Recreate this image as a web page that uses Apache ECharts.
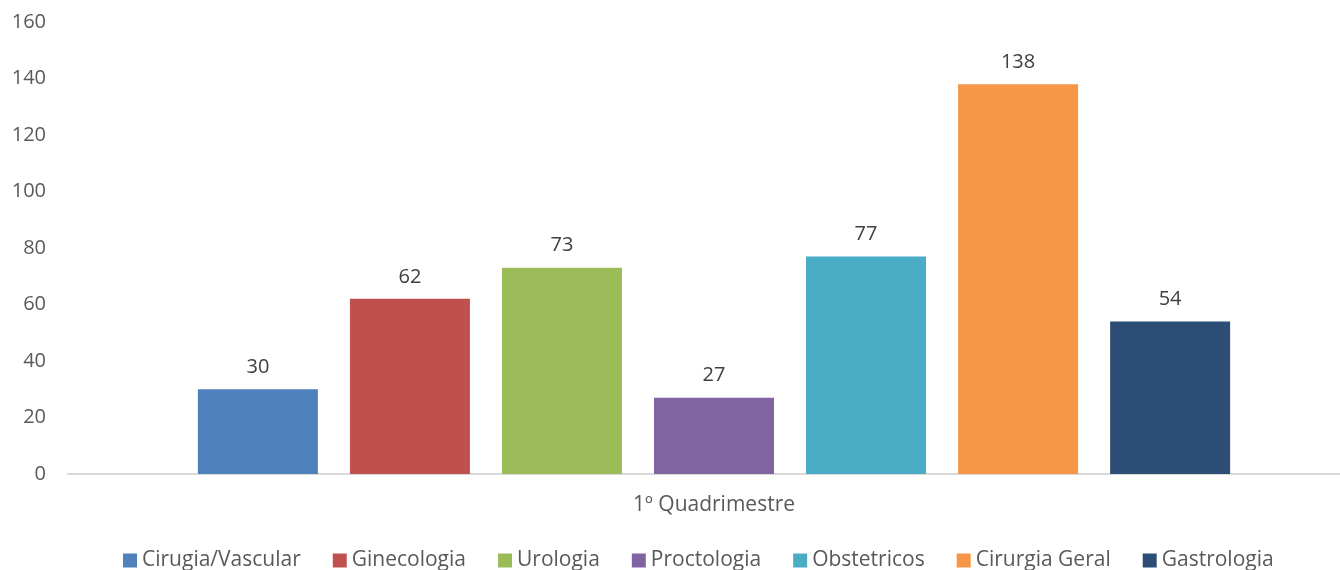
<!DOCTYPE html>
<html><head><meta charset="utf-8">
<script src="https://cdn.jsdelivr.net/npm/echarts@6/dist/echarts.min.js"></script>
<style>html,body{margin:0;padding:0;background:#fff}#c{width:1340px;height:570px}</style>
</head><body><div id="c"></div>
<script>
const categories = ['1º Quadrimestre'];
const seriesNames = ['Cirugia/Vascular','Ginecologia','Urologia','Proctologia','Obstetricos','Cirurgia Geral','Gastrologia'];
const seriesValues = [30, 62, 73, 27, 77, 138, 54];
const colors = ['#4F81BD','#C0504D','#9BBB59','#8064A2','#4BACC6','#F79646','#2C4D75'];
const yTicks = [0, 20, 40, 60, 80, 100, 120, 140, 160];

const font = "'Open Sans', 'Noto Sans', sans-serif";
const chart = echarts.init(document.getElementById('c'));
chart.setOption({
  animation: false,
  textStyle: {fontFamily: font},
  grid: {left: 68, top: 22, bottom: 96, right: -20, containLabel: false, outerBoundsMode: 'none'},
  legend: {
    data: seriesNames, top: 545, left: 118, icon: 'rect',
    itemWidth: 14, itemHeight: 14, itemGap: 32,
    textStyle: {color: '#595959', fontSize: 21, fontFamily: font}
  },
  xAxis: {
    type: 'category', data: categories,
    axisLine: {lineStyle: {color: '#d9d9d9', width: 2}},
    axisTick: {show: false},
    axisLabel: {color: '#595959', fontSize: 21, margin: 21, fontFamily: font}
  },
  yAxis: {
    type: 'value', min: yTicks[0], max: yTicks[yTicks.length-1], interval: 20,
    axisLine: {show: false}, axisTick: {show: false}, splitLine: {show: false},
    axisLabel: {color: '#595959', fontSize: 20, margin: 22, fontFamily: font}
  },
  series: seriesNames.map((n, i) => ({
    name: n, type: 'bar', data: [seriesValues[i]],
    barWidth: 120, barGap: '26.7%',
    itemStyle: {color: colors[i]},
    label: {show: true, position: 'top', distance: 12, color: '#404040', fontSize: 20, fontFamily: font}
  }))
});
</script></body></html>
